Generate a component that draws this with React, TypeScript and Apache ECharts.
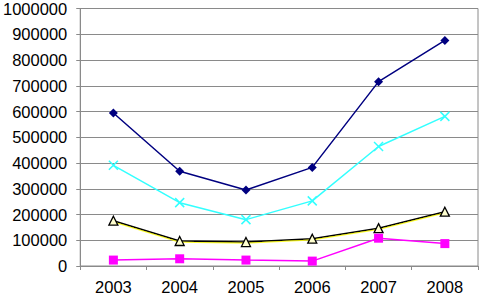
import React, { useEffect, useRef } from "react";
import * as echarts from "echarts";

const categories = ["2003", "2004", "2005", "2006", "2007", "2008"];
const seriesNavy = [594000, 368000, 295000, 383000, 716000, 876000];
const seriesCyan = [391000, 246000, 180000, 253000, 464000, 581000];
const seriesTriangle = [176000, 97000, 93000, 106000, 147000, 211000];
const seriesMagenta = [23000, 28000, 23000, 19000, 108000, 87000];

export default function App() {
  const ref = useRef<HTMLDivElement>(null);
  useEffect(() => {
    const chart = echarts.init(ref.current!, null, { renderer: "svg" });
    const font = "Liberation Sans, Arial, sans-serif";
    chart.setOption({
      animation: false,
      backgroundColor: "#ffffff",
      grid: {
        left: 77,
        right: 1,
        top: 5,
        bottom: 31,
        show: true,
        borderColor: "#8a8a8a",
        borderWidth: 1,
      },
      xAxis: {
        type: "category",
        data: categories,
        boundaryGap: true,
        axisLine: { lineStyle: { color: "#8a8a8a", width: 1 } },
        axisTick: { show: true, length: 4, inside: false, lineStyle: { color: "#8a8a8a" } },
        axisLabel: { color: "#000", fontSize: 16.5, fontFamily: font, margin: 12 },
        splitLine: { show: false },
      },
      yAxis: {
        type: "value",
        min: 0,
        max: 1000000,
        interval: 100000,
        axisLine: { show: true, lineStyle: { color: "#8a8a8a", width: 1 } },
        axisTick: { show: true, length: 4, lineStyle: { color: "#8a8a8a" } },
        axisLabel: {
          color: "#000",
          fontSize: 16.5,
          fontFamily: font,
          margin: 13,
          formatter: (v: number) => String(v),
        },
        splitLine: { show: true, lineStyle: { color: "#8a8a8a", width: 1 } },
      },
      series: [
        {
          type: "line",
          data: seriesNavy,
          symbol: "diamond",
          symbolSize: 9,
          lineStyle: { color: "#000080", width: 1.5 },
          itemStyle: { color: "#000080" },
        },
        {
          type: "line",
          data: seriesCyan,
          symbol: "path://M0,0L10,10M10,0L0,10",
          symbolSize: 9,
          lineStyle: { color: "#33ffff", width: 1.5 },
          itemStyle: { color: "#33ffff", borderColor: "#33ffff", borderWidth: 1.5 },
        },
        {
          type: "line",
          data: seriesTriangle,
          symbol: "triangle",
          symbolSize: 9,
          lineStyle: { color: "#000000", width: 1.5, shadowColor: "rgba(255,255,0,0.8)", shadowBlur: 0, shadowOffsetY: 1 },
          itemStyle: { color: "#ffffd0", borderColor: "#000000", borderWidth: 1.3 },
        },
        {
          type: "line",
          data: seriesMagenta,
          symbol: "rect",
          symbolSize: 9,
          lineStyle: { color: "#ff00ff", width: 1.5 },
          itemStyle: { color: "#ff00ff" },
        },
      ],
    });
    return () => chart.dispose();
  }, []);
  return <div ref={ref} style={{ width: 479, height: 297, position: "absolute", left: 0, top: 0 }} />;
}
